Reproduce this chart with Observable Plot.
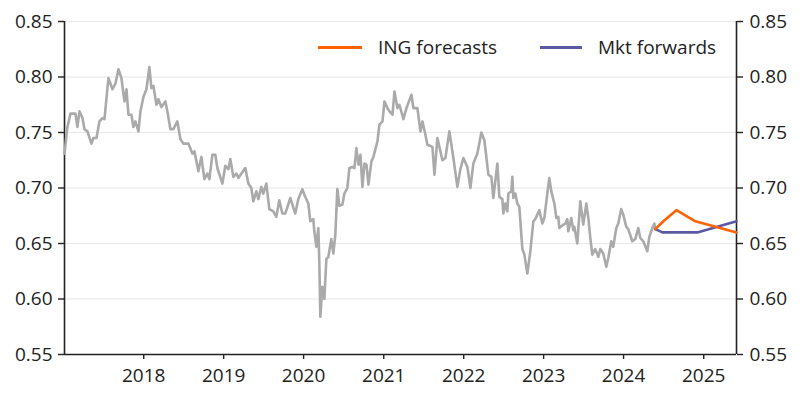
<!DOCTYPE html>
<html><head><meta charset="utf-8">
<script src="https://cdn.jsdelivr.net/npm/d3@7"></script>
<script src="https://cdn.jsdelivr.net/npm/@observablehq/plot@0.6"></script>
<style>
body{margin:0;background:#fff;}
#wrap{position:relative;width:800px;height:399px;font-family:"Open Sans",sans-serif;color:#222;}
.sw{position:absolute;height:3px;}
.lt{position:absolute;font-size:19px;line-height:26px;white-space:nowrap;}
</style></head>
<body><div id="wrap"></div>
<script>
// AUD/USD spot (decimal year, value)
const spotT = [2017.009,2017.043,2017.084,2017.146,2017.171,2017.196,2017.234,2017.259,2017.296,2017.346,2017.371,2017.409,2017.446,2017.484,2017.509,2017.546,2017.559,2017.609,2017.646,2017.684,2017.721,2017.759,2017.784,2017.809,2017.846,2017.871,2017.896,2017.934,2017.959,2017.996,
2018.034,2018.071,2018.096,2018.121,2018.159,2018.184,2018.221,2018.271,2018.296,2018.334,2018.371,2018.421,2018.459,2018.496,2018.559,2018.609,2018.634,2018.684,2018.721,2018.759,2018.796,2018.821,2018.859,2018.896,2018.921,2018.984,
2019.021,2019.059,2019.084,2019.121,2019.159,2019.184,2019.271,2019.309,2019.346,2019.371,2019.409,2019.434,2019.471,2019.496,2019.534,2019.571,2019.621,2019.659,2019.696,2019.734,2019.771,2019.834,2019.896,2019.934,2019.984,
2020.009,2020.059,2020.084,2020.121,2020.134,2020.159,2020.184,2020.196,2020.209,2020.234,2020.259,2020.284,2020.309,2020.346,2020.371,2020.396,2020.421,2020.446,2020.484,2020.509,2020.546,2020.571,2020.609,2020.634,2020.659,2020.684,2020.709,2020.734,2020.759,2020.784,2020.809,2020.846,2020.871,2020.921,2020.946,2020.984,
2021.009,2021.046,2021.071,2021.109,2021.134,2021.171,2021.196,2021.246,2021.284,2021.346,2021.371,2021.421,2021.459,2021.484,2021.521,2021.546,2021.609,2021.634,2021.671,2021.734,2021.771,2021.821,2021.871,2021.921,2021.959,2021.996,
2022.046,2022.084,2022.121,2022.171,2022.221,2022.259,2022.309,2022.346,2022.371,2022.421,2022.446,2022.484,2022.496,2022.521,2022.546,2022.559,2022.596,2022.609,2022.621,2022.646,2022.671,2022.696,2022.734,2022.759,2022.796,2022.834,2022.871,2022.896,2022.921,2022.946,2022.984,
2023.009,2023.046,2023.071,2023.096,2023.134,2023.159,2023.184,2023.196,2023.246,2023.271,2023.296,2023.309,2023.346,2023.371,2023.384,2023.421,2023.459,2023.496,2023.534,2023.559,2023.584,2023.609,2023.646,2023.684,2023.709,2023.746,2023.784,2023.809,2023.846,2023.871,2023.909,2023.934,2023.971,2023.996,
2024.034,2024.059,2024.109,2024.146,2024.184,2024.209,2024.246,2024.296,2024.321,2024.359,2024.384,2024.396];
const spotV = [0.731,0.754,0.767,0.767,0.755,0.769,0.763,0.753,0.751,0.740,0.745,0.745,0.760,0.763,0.762,0.790,0.799,0.789,0.794,0.807,0.799,0.778,0.789,0.766,0.766,0.755,0.760,0.751,0.769,0.782,
0.789,0.809,0.790,0.792,0.775,0.780,0.773,0.778,0.769,0.753,0.753,0.760,0.744,0.740,0.740,0.731,0.733,0.715,0.728,0.708,0.713,0.708,0.730,0.730,0.718,0.704,
0.720,0.717,0.726,0.710,0.713,0.709,0.718,0.704,0.700,0.688,0.697,0.690,0.701,0.695,0.704,0.681,0.679,0.674,0.689,0.677,0.677,0.691,0.677,0.690,0.699,
0.694,0.686,0.670,0.672,0.661,0.647,0.664,0.634,0.584,0.611,0.600,0.636,0.638,0.654,0.641,0.658,0.699,0.684,0.685,0.695,0.700,0.718,0.719,0.718,0.736,0.721,0.730,0.701,0.722,0.721,0.703,0.724,0.728,0.742,0.757,0.760,
0.778,0.772,0.769,0.766,0.787,0.772,0.775,0.762,0.772,0.784,0.772,0.772,0.751,0.760,0.748,0.739,0.737,0.712,0.745,0.725,0.727,0.751,0.727,0.701,0.717,0.727,
0.719,0.700,0.722,0.731,0.750,0.743,0.712,0.710,0.691,0.722,0.692,0.690,0.677,0.686,0.679,0.695,0.697,0.710,0.691,0.695,0.686,0.683,0.645,0.640,0.623,0.643,0.670,0.672,0.676,0.680,0.668,
0.673,0.695,0.709,0.697,0.686,0.673,0.674,0.664,0.667,0.668,0.672,0.661,0.673,0.662,0.665,0.650,0.688,0.667,0.686,0.673,0.655,0.640,0.645,0.638,0.645,0.641,0.629,0.637,0.652,0.647,0.664,0.668,0.681,0.676,
0.665,0.663,0.652,0.654,0.664,0.655,0.652,0.643,0.656,0.664,0.668,0.663];
// ING forecasts
const ingT = [2024.396,2024.496,2024.659,2024.896,2025.41];
const ingV = [0.663,0.670,0.680,0.670,0.660];
// Market forwards
const fwdT = [2024.396,2024.484,2024.92,2025.41];
const fwdV = [0.663,0.660,0.660,0.670];
const yTicks = [0.55,0.60,0.65,0.70,0.75,0.80,0.85];
const xYears = [2018,2019,2020,2021,2022,2023,2024,2025];
const xDomain = [2017.009, 2025.41];

function dec(t){const y=Math.floor(t);const a=Date.UTC(y,0,1),b=Date.UTC(y+1,0,1);return new Date(a+(t-y)*(b-a));}
const spot = spotT.map((t,i)=>({date:dec(t),v:spotV[i]}));
const ing = ingT.map((t,i)=>({date:dec(t),v:ingV[i]}));
const fwd = fwdT.map((t,i)=>({date:dec(t),v:fwdV[i]}));
const xTicks = xYears.map(y=>new Date(Date.UTC(y,0,1)));
const dom = xDomain.map(dec);
const ax = "#222";

const chart = Plot.plot({
  width:800,height:399,marginLeft:64,marginRight:64,marginTop:21,marginBottom:45,
  style:{fontFamily:'"Open Sans",sans-serif',fontSize:"19px",color:"#222",background:"#fff",overflow:"visible"},
  x:{type:"utc",domain:dom},
  y:{domain:[0.55,0.85]},
  marks:[
    Plot.gridY(yTicks,{stroke:"#e8e8e8",strokeOpacity:1,strokeWidth:1.2}),
    Plot.axisY(yTicks,{anchor:"left",tickFormat:d=>d.toFixed(2),tickSize:6,tickPadding:6,label:null,stroke:ax,strokeWidth:1.4}),
    Plot.axisY(yTicks,{anchor:"right",tickFormat:d=>d.toFixed(2),tickSize:6,tickPadding:7,label:null,stroke:ax,strokeWidth:1.4}),
    Plot.axisX(xTicks,{anchor:"bottom",tickFormat:"%Y",tickSize:5,tickPadding:9,label:null,stroke:ax,strokeWidth:1.4}),
    Plot.ruleX([dom[0]],{stroke:ax,strokeWidth:1.6}),
    Plot.ruleX([dom[1]],{stroke:ax,strokeWidth:1.6}),
    Plot.ruleY([0.55],{stroke:ax,strokeWidth:1.6}),
    Plot.line(spot,{x:"date",y:"v",stroke:"#aaaaaa",strokeWidth:2.6}),
    Plot.line(fwd,{x:"date",y:"v",stroke:"#5b59a6",strokeWidth:2.6}),
    Plot.line(ing,{x:"date",y:"v",stroke:"#ff6200",strokeWidth:2.6})
  ]
});
const wrap = document.getElementById("wrap");
wrap.appendChild(chart);
const leg = [
  {c:"#ff6200",l:318,w:44,tx:378,t:"ING forecasts"},
  {c:"#5b59a6",l:540,w:42,tx:598,t:"Mkt forwards"}
];
for(const g of leg){
  const s=document.createElement("div");s.className="sw";s.style.background=g.c;s.style.left=g.l+"px";s.style.top="46px";s.style.width=g.w+"px";wrap.appendChild(s);
  const t=document.createElement("div");t.className="lt";t.style.left=g.tx+"px";t.style.top="34px";t.textContent=g.t;wrap.appendChild(t);
}
</script>
</body></html>
